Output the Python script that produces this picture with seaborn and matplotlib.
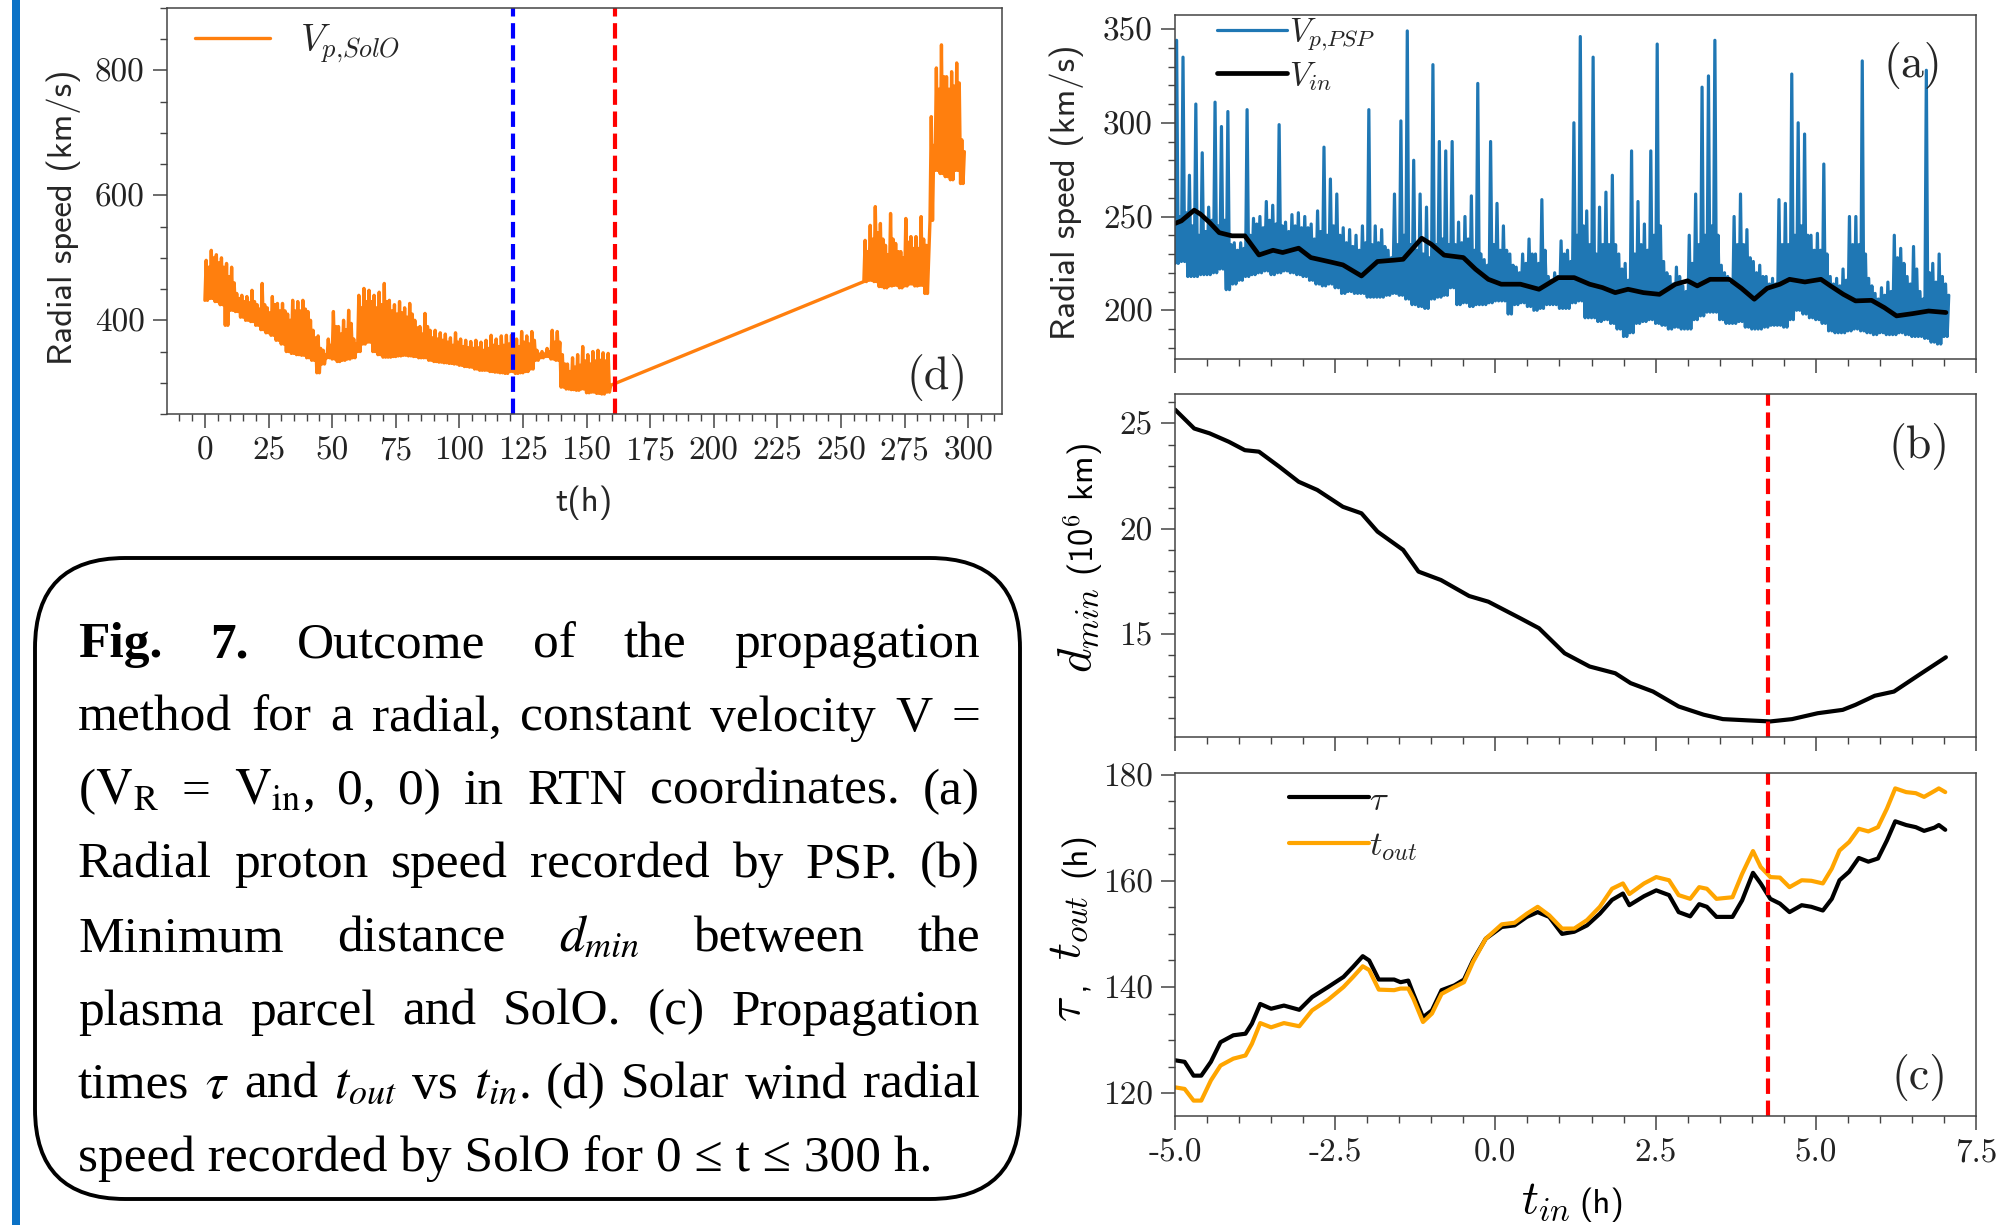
import numpy as np
import pandas as pd
import matplotlib
matplotlib.use("Agg")
import matplotlib.pyplot as plt
from matplotlib.ticker import MultipleLocator, AutoMinorLocator
from matplotlib.patches import FancyBboxPatch, Rectangle
import seaborn as sns

# ---------------------------------------------------------------- data
# (a) PSP radial proton speed, 0.1 h bins from t_in = -5.0 h:
#     per bin the lowest value, the top of the dense band and the peak value
psp_bin_start = -5.0
psp_bin_width = 0.1
psp_lo = [225, 226, 218, 218, 219, 219, 220, 222, 211, 214,
          216, 218, 219, 220, 221, 219, 220, 221, 220, 219,
          218, 216, 214, 213, 214, 212, 209, 210, 209, 209,
          207, 207, 207, 208, 209, 208, 206, 203, 202, 201,
          206, 207, 208, 212, 203, 204, 202, 203, 203, 204,
          205, 205, 198, 203, 204, 202, 200, 201, 203, 203,
          201, 201, 204, 205, 196, 196, 194, 195, 193, 190,
          186, 188, 193, 194, 195, 193, 192, 190, 191, 190,
          190, 195, 197, 199, 199, 195, 193, 193, 194, 191,
          190, 190, 191, 192, 192, 191, 195, 200, 198, 196,
          195, 193, 189, 188, 188, 189, 190, 189, 188, 187,
          188, 187, 187, 188, 187, 186, 186, 185, 183, 182,
          186]
psp_mid = [250, 252, 245, 240, 242, 248, 245, 248, 235, 232,
           233, 240, 246, 244, 248, 246, 245, 242, 245, 244,
           244, 238, 242, 240, 245, 240, 236, 234, 232, 236,
           235, 236, 234, 228, 235, 240, 235, 232, 230, 228,
           235, 238, 235, 235, 236, 238, 232, 230, 224, 235,
           232, 232, 224, 220, 225, 230, 225, 232, 216, 218,
           230, 226, 240, 245, 235, 230, 235, 235, 235, 222,
           216, 230, 235, 232, 240, 245, 220, 214, 218, 210,
           225, 235, 240, 245, 240, 220, 214, 235, 235, 228,
           220, 218, 214, 214, 235, 235, 240, 245, 240, 232,
           232, 230, 214, 213, 216, 235, 235, 230, 213, 206,
           208, 210, 228, 225, 214, 222, 206, 220, 215, 218,
           208]
psp_hi = [344, 335, 272, 310, 284, 255, 311, 298, 306, 236,
          236, 307, 249, 250, 258, 256, 299, 247, 251, 252,
          250, 246, 253, 287, 270, 262, 244, 243, 240, 245,
          307, 245, 243, 232, 262, 301, 349, 280, 262, 255,
          331, 290, 285, 290, 247, 250, 261, 321, 227, 290,
          257, 245, 230, 223, 230, 238, 230, 259, 218, 220,
          237, 232, 300, 346, 253, 335, 255, 263, 272, 230,
          225, 285, 258, 246, 285, 342, 226, 218, 223, 213,
          240, 262, 319, 325, 344, 224, 218, 250, 262, 243,
          226, 224, 218, 217, 259, 257, 326, 300, 294, 240,
          241, 278, 218, 217, 222, 250, 250, 333, 217, 209,
          212, 215, 240, 233, 218, 234, 210, 328, 225, 230,
          214]

# (a) constant inflow speed V_in
vin_t = [-5.00, -4.90, -4.70, -4.60, -4.46, -4.31, -4.11, -3.91, -3.69, -3.47,
         -3.32, -3.07, -2.88, -2.58, -2.38, -2.09, -1.84, -1.59, -1.44, -1.15,
         -1.00, -0.80, -0.50, -0.31, -0.11, 0.09, 0.39, 0.68, 0.98, 1.23,
         1.47, 1.67, 1.87, 2.07, 2.31, 2.56, 2.81, 3.00, 3.15, 3.35,
         3.65, 3.84, 4.04, 4.24, 4.44, 4.59, 4.83, 5.08, 5.23, 5.43,
         5.62, 5.87, 6.07, 6.26, 6.51, 6.76, 7.03]
vin_v = [246.3, 247.7, 253.4, 251.2, 246.8, 241.4, 239.7, 239.7, 229.5, 232.0,
         230.8, 233.1, 228.1, 225.8, 224.2, 218.3, 226.0, 226.7, 227.2, 238.4,
         235.2, 229.4, 228.1, 221.9, 216.5, 213.9, 213.9, 211.2, 217.4, 217.4,
         213.9, 212.1, 209.4, 211.2, 209.4, 208.5, 213.9, 215.7, 213.0, 216.5,
         216.5, 211.7, 205.9, 211.7, 213.9, 216.5, 215.1, 216.5, 213.0, 208.5,
         205.0, 205.3, 201.4, 197.0, 198.2, 199.6, 198.8]

# (b) minimum distance d_min (10^6 km)
dmin_t = [-5.00, -4.70, -4.46, -4.16, -3.91, -3.69, -3.37, -3.07, -2.78, -2.38,
          -2.09, -1.84, -1.44, -1.20, -0.85, -0.41, -0.11, 0.39, 0.68, 1.08,
          1.47, 1.87, 2.11, 2.46, 2.86, 3.25, 3.55, 3.94, 4.29, 4.63,
          5.03, 5.42, 5.62, 5.92, 6.22, 6.61, 7.03]
dmin_v = [25.66, 24.76, 24.53, 24.13, 23.73, 23.66, 22.94, 22.23, 21.84, 21.04,
          20.73, 19.86, 18.99, 17.96, 17.56, 16.80, 16.53, 15.74, 15.27, 14.08,
          13.45, 13.13, 12.66, 12.26, 11.55, 11.16, 10.95, 10.89, 10.84, 10.95,
          11.23, 11.39, 11.63, 12.06, 12.26, 13.05, 13.89]

# (c) propagation times tau and t_out (h)
prop_t = [-5.00, -4.85, -4.71, -4.59, -4.44, -4.29, -4.09, -3.90, -3.80, -3.67,
          -3.50, -3.30, -3.06, -2.86, -2.61, -2.37, -2.22, -2.07, -1.97, -1.82,
          -1.58, -1.48, -1.36, -1.28, -1.13, -0.99, -0.84, -0.64, -0.49, -0.35,
          -0.15, 0.10, 0.30, 0.49, 0.66, 0.84, 1.04, 1.23, 1.43, 1.63,
          1.82, 1.99, 2.09, 2.32, 2.51, 2.71, 2.86, 3.04, 3.18, 3.30,
          3.45, 3.70, 3.85, 4.02, 4.14, 4.29, 4.44, 4.59, 4.78, 4.93,
          5.11, 5.25, 5.37, 5.52, 5.67, 5.82, 5.97, 6.11, 6.24, 6.41,
          6.56, 6.69, 6.85, 6.92, 7.02]
tau_v = [126.2, 125.9, 123.3, 123.3, 125.9, 129.6, 130.9, 131.2, 133.1, 136.8,
         135.9, 136.5, 135.7, 138.1, 140.0, 141.9, 143.8, 145.8, 145.0, 141.4,
         141.4, 140.9, 141.2, 138.7, 134.3, 135.6, 139.4, 140.3, 141.4, 145.0,
         149.1, 151.3, 151.6, 153.2, 154.1, 153.2, 150.0, 150.4, 151.6, 153.8,
         156.4, 157.6, 155.4, 157.1, 158.2, 157.3, 154.1, 153.3, 155.6, 155.1,
         153.2, 153.2, 156.3, 161.5, 159.5, 156.6, 155.7, 154.1, 155.4, 155.1,
         154.4, 156.6, 160.1, 161.7, 164.3, 163.6, 164.2, 167.6, 171.2, 170.5,
         170.1, 169.4, 170.0, 170.5, 169.6]
tout_v = [121.1, 120.8, 118.6, 118.6, 122.4, 125.2, 126.5, 127.1, 129.3, 133.2,
          132.4, 133.2, 132.6, 135.6, 137.6, 140.0, 141.9, 143.9, 143.2, 139.5,
          139.4, 139.7, 139.7, 137.8, 133.4, 135.0, 138.7, 140.0, 140.9, 144.7,
          149.1, 151.8, 152.1, 153.8, 155.1, 153.5, 151.0, 151.0, 152.6, 155.1,
          158.5, 159.5, 157.5, 159.5, 160.7, 160.1, 157.3, 156.6, 158.8, 158.5,
          156.6, 156.9, 161.3, 165.6, 162.6, 160.7, 160.6, 158.8, 160.1, 160.0,
          159.5, 162.3, 165.7, 167.3, 169.8, 169.3, 170.1, 173.6, 177.4, 176.7,
          176.5, 175.8, 176.9, 177.4, 176.7]
t_in_marker = 4.26

# (d) SolO radial speed, 2 h bins: first stretch 0-160 h, second 259-299 h
solo_width = 2.0
solo_start_1 = np.arange(0, 160, 2)
solo_lo_1 = [432, 435, 430, 425, 392, 416, 414, 405, 400, 398,
             392, 385, 380, 376, 368, 362, 350, 347, 345, 344,
             340, 336, 316, 330, 340, 338, 334, 336, 338, 340,
             350, 362, 365, 350, 345, 341, 341, 342, 343, 344,
             343, 342, 340, 340, 336, 334, 333, 332, 331, 330,
             328, 326, 325, 322, 320, 320, 318, 317, 316, 315,
             318, 315, 316, 318, 322, 336, 340, 342, 338, 336,
             293, 290, 289, 288, 290, 284, 285, 283, 282, 285]
solo_mid_1 = [485, 500, 492, 485, 470, 460, 435, 430, 428, 430,
              418, 425, 412, 425, 415, 415, 400, 415, 415, 418,
              400, 372, 355, 345, 360, 390, 378, 385, 395, 362,
              420, 430, 430, 420, 425, 430, 415, 410, 412, 405,
              410, 388, 378, 390, 372, 370, 368, 365, 360, 365,
              358, 356, 355, 356, 352, 355, 360, 358, 360, 362,
              362, 358, 365, 362, 368, 346, 346, 350, 365, 365,
              330, 318, 325, 328, 335, 330, 335, 336, 335, 296]
solo_hi_1 = [496, 512, 505, 500, 491, 485, 443, 440, 438, 448,
             425, 459, 420, 438, 427, 427, 410, 432, 430, 432,
             414, 384, 375, 352, 370, 414, 390, 400, 416, 370,
             440, 451, 448, 440, 445, 459, 432, 425, 430, 420,
             427, 400, 390, 411, 384, 384, 380, 378, 372, 380,
             370, 368, 366, 368, 365, 368, 376, 370, 375, 376,
             376, 370, 382, 375, 382, 352, 350, 355, 384, 382,
             345, 330, 340, 345, 358, 345, 350, 352, 348, 347]
solo_start_2 = np.arange(259, 299, 2)
solo_lo_2 = [462, 464, 462, 454, 452, 455, 456, 452, 455, 458,
             455, 456, 443, 560, 640, 635, 630, 625, 640, 619]
solo_mid_2 = [510, 530, 540, 530, 505, 530, 510, 500, 525, 515,
              515, 530, 500, 680, 770, 790, 770, 775, 780, 670]
solo_hi_2 = [528, 552, 582, 555, 520, 571, 523, 510, 563, 534,
             534, 566, 520, 726, 804, 841, 790, 798, 812, 689]
t_blue_marker = 121.0
t_red_marker = 161.0

caption_lines = [
    ["Fig.", "7.", "Outcome", "of", "the", "propagation"],
    ["method", "for", "a", "radial,", "constant", "velocity", "V", "="],
    [r"($\mathrm{V_R}$", "=", r"$\mathrm{V_{in}}$,", "0,", "0)", "in", "RTN",
     "coordinates.", "(a)"],
    ["Radial", "proton", "speed", "recorded", "by", "PSP.", "(b)"],
    ["Minimum", "distance", r"$d_{min}$", "between", "the"],
    ["plasma", "parcel", "and", "SolO.", "(c)", "Propagation"],
    ["times", r"$\tau$", "and", r"$t_{out}$", "vs", r"$t_{in}$.", "(d)", "Solar",
     "wind", "radial"],
    ["speed", "recorded", "by", "SolO", "for", "0", "\u2264", "t", "\u2264",
     "300", "h."],
]
bold_words = {(0, 0), (0, 1)}


def envelope_trace(starts, width, lo, mid, hi):
    """Per-bin low / peak / band-top readings laid out as one trace."""
    t, v = [], []
    for t0, a, m, b in zip(starts, lo, mid, hi):
        t += [t0, t0 + 0.25 * width, t0 + 0.5 * width, t0 + 0.75 * width]
        v += [a, b, a, m]
    return pd.DataFrame({"t": t, "v": v})


# ---------------------------------------------------------------- style
sns.set_theme(style="ticks")
plt.rcParams.update({
    "font.family": ["cmr10", "DejaVu Sans"],
    "mathtext.fontset": "cm",
    "axes.unicode_minus": False,
    "axes.formatter.use_mathtext": False,
    "axes.edgecolor": "#444444",
    "axes.linewidth": 1.1,
    "axes.facecolor": "white",
    "figure.facecolor": "white",
})

W, H = 2011, 1225
fig = plt.figure(figsize=(W / 100, H / 100), dpi=100)


def px_axes(left, top, right, bottom):
    return fig.add_axes([left / W, 1 - bottom / H, (right - left) / W, (bottom - top) / H])


def px_text(x, y, s, size, family="cmss10", rotation=0):
    """Axis-title piece anchored at its baseline start, in pixel coordinates."""
    return fig.text(x / W, 1 - y / H, s, fontsize=size, fontfamily=family,
                    rotation=rotation, rotation_mode="anchor",
                    ha="left", va="baseline", color="black")


ax_d = px_axes(167, 8, 1002, 414)
ax_a = px_axes(1175, 15, 1976, 359)
ax_b = px_axes(1175, 394, 1976, 737)
ax_c = px_axes(1175, 773, 1976, 1116)

label_font = dict(fontfamily="cmss10", fontsize=25)
math_size = 34

for ax in (ax_a, ax_b, ax_c, ax_d):
    ax.tick_params(which="major", length=10, width=1.1, direction="out", labelsize=24,
                   pad=6, color="#444444", labelcolor="#222222")
    ax.tick_params(which="minor", length=5, width=1.0, direction="out", color="#444444")

# ---------------------------------------------------------------- (d)
solo = pd.concat([envelope_trace(solo_start_1, solo_width, solo_lo_1, solo_mid_1, solo_hi_1),
                  envelope_trace(solo_start_2, solo_width, solo_lo_2, solo_mid_2, solo_hi_2)],
                 ignore_index=True)
sns.lineplot(data=solo, x="t", y="v", ax=ax_d, color="#ff7f0e", lw=2.4,
             estimator=None, sort=False, label=r"$V_{p{,}SolO}$")
ax_d.axvline(t_blue_marker, color="blue", lw=3, ls="--")
ax_d.axvline(t_red_marker, color="red", lw=3, ls="--")
ax_d.set_xlim(-14.9, 313.3)
ax_d.set_ylim(250, 900)
ax_d.xaxis.set_major_locator(MultipleLocator(25))
ax_d.xaxis.set_minor_locator(AutoMinorLocator(5))
ax_d.yaxis.set_major_locator(MultipleLocator(200))
ax_d.yaxis.set_minor_locator(AutoMinorLocator(4))
ax_d.set_xlabel("t(h)", **label_font)
ax_d.set_ylabel("Radial speed (km/s)", **label_font)
ax_d.yaxis.set_label_coords(-0.103, 0.485)
ax_d.xaxis.set_label_coords(0.5, -0.175)
ax_d.legend(loc="upper left", bbox_to_anchor=(0.0335, 0.965), frameon=False, fontsize=27,
            handlelength=2.0, handletextpad=0.8, borderaxespad=0, borderpad=0)
ax_d.text(0.959, 0.089, "(d)", transform=ax_d.transAxes, ha="right", va="center",
          fontsize=33, fontfamily="cmr10")

# ---------------------------------------------------------------- (a)
psp_starts = psp_bin_start + psp_bin_width * np.arange(len(psp_lo))
psp = envelope_trace(psp_starts, psp_bin_width, psp_lo, psp_mid, psp_hi)
sns.lineplot(data=psp, x="t", y="v", ax=ax_a, color="#1f77b4", lw=2.3,
             estimator=None, sort=False, label=r"$V_{p{,}PSP}$")
sns.lineplot(x=vin_t, y=vin_v, ax=ax_a, color="black", lw=3.4,
             estimator=None, sort=False, label=r"$V_{in}$")
ax_a.set_ylim(174, 357.5)
ax_a.yaxis.set_major_locator(MultipleLocator(50))
ax_a.yaxis.set_minor_locator(AutoMinorLocator(5))
ax_a.set_ylabel("Radial speed (km/s)", **label_font)
ax_a.yaxis.set_label_coords(-0.1136, 0.486)
ax_a.legend(loc="upper left", bbox_to_anchor=(0.052, 0.995), frameon=False, fontsize=24,
            handlelength=2.1, handletextpad=0.06, labelspacing=0.2,
            borderaxespad=0, borderpad=0)
ax_a.text(0.958, 0.853, "(a)", transform=ax_a.transAxes, ha="right", va="center",
          fontsize=33, fontfamily="cmr10")

# ---------------------------------------------------------------- (b)
sns.lineplot(x=dmin_t, y=dmin_v, ax=ax_b, color="black", lw=3,
             estimator=None, sort=False)
ax_b.axvline(t_in_marker, color="red", lw=3, ls="--")
ax_b.set_ylim(10.1, 26.4)
ax_b.yaxis.set_major_locator(MultipleLocator(5))
ax_b.yaxis.set_minor_locator(AutoMinorLocator(5))
ax_b.set_ylabel("")
px_text(1091, 673, r"$d_{min}$", math_size, rotation=90)
px_text(1094, 576, r"(10$^{6}$ km)", 25, rotation=90)
ax_b.text(0.9675, 0.846, "(b)", transform=ax_b.transAxes, ha="right", va="center",
          fontsize=33, fontfamily="cmr10")

# ---------------------------------------------------------------- (c)
sns.lineplot(x=prop_t, y=tau_v, ax=ax_c, color="black", lw=3,
             estimator=None, sort=False, label=r"$\tau$")
sns.lineplot(x=prop_t, y=tout_v, ax=ax_c, color="#ffa500", lw=3,
             estimator=None, sort=False, label=r"$t_{out}$")
ax_c.axvline(t_in_marker, color="red", lw=3, ls="--")
ax_c.set_ylim(115.7, 180.3)
ax_c.yaxis.set_major_locator(MultipleLocator(20))
ax_c.yaxis.set_minor_locator(AutoMinorLocator(4))
ax_c.set_ylabel("")
ax_c.set_xlabel("")
px_text(1080, 1022, r"$\tau$", math_size, rotation=90)
px_text(1083, 990, ",", 25, rotation=90)
px_text(1080, 960, r"$t_{out}$", math_size, rotation=90)
px_text(1085, 877, "(h)", 25, rotation=90)
px_text(1521, 1213, r"$t_{in}$", math_size)
px_text(1579, 1213, "(h)", 25)
ax_c.legend(loc="upper left", bbox_to_anchor=(0.142, 0.965), frameon=False, fontsize=25,
            handlelength=2.3, handletextpad=0.02, labelspacing=0.4,
            borderaxespad=0, borderpad=0)
ax_c.text(0.964, 0.111, "(c)", transform=ax_c.transAxes, ha="right", va="center",
          fontsize=33, fontfamily="cmr10")

# shared t_in axis for the right column
for ax in (ax_a, ax_b, ax_c):
    ax.set_xlim(-5, 7.5)
    ax.xaxis.set_major_locator(MultipleLocator(2.5))
    ax.xaxis.set_minor_locator(AutoMinorLocator(5))
for ax in (ax_a, ax_b):
    ax.set_xlabel("")
    ax.tick_params(axis="x", labelbottom=False)

# ---------------------------------------------------------------- caption
fig.add_artist(Rectangle((12 / W, 0), 8 / W, 1, transform=fig.transFigure,
                         color="#0b72c6", lw=0))
fig.add_artist(FancyBboxPatch((0.35, 0.26), 9.85, 6.41,
                              boxstyle="round,pad=0,rounding_size=0.9",
                              transform=fig.dpi_scale_trans, fill=False,
                              ec="black", lw=2.8))

renderer = fig.canvas.get_renderer()
cap_fs = 37
cap_left, cap_right = 78, 980
base0, lead = 657, 73.5
cap_style = dict(fontsize=cap_fs, fontfamily="Liberation Serif", math_fontfamily="stix",
                 va="baseline", ha="left", color="black")
for i, words in enumerate(caption_lines):
    y = 1 - (base0 + i * lead) / H
    if i == len(caption_lines) - 1:
        fig.text(cap_left / W, y, " ".join(words), **cap_style)
        continue
    items = []
    for j, w in enumerate(words):
        weight = "bold" if (i, j) in bold_words else "normal"
        items.append(fig.text(0, y, w, fontweight=weight, **cap_style))
    widths = [t.get_window_extent(renderer=renderer).width for t in items]
    gap = (cap_right - cap_left - sum(widths)) / (len(items) - 1)
    x = cap_left
    for t, wd in zip(items, widths):
        t.set_x(x / W)
        x += wd + gap

fig.savefig("out.png", dpi=100)
